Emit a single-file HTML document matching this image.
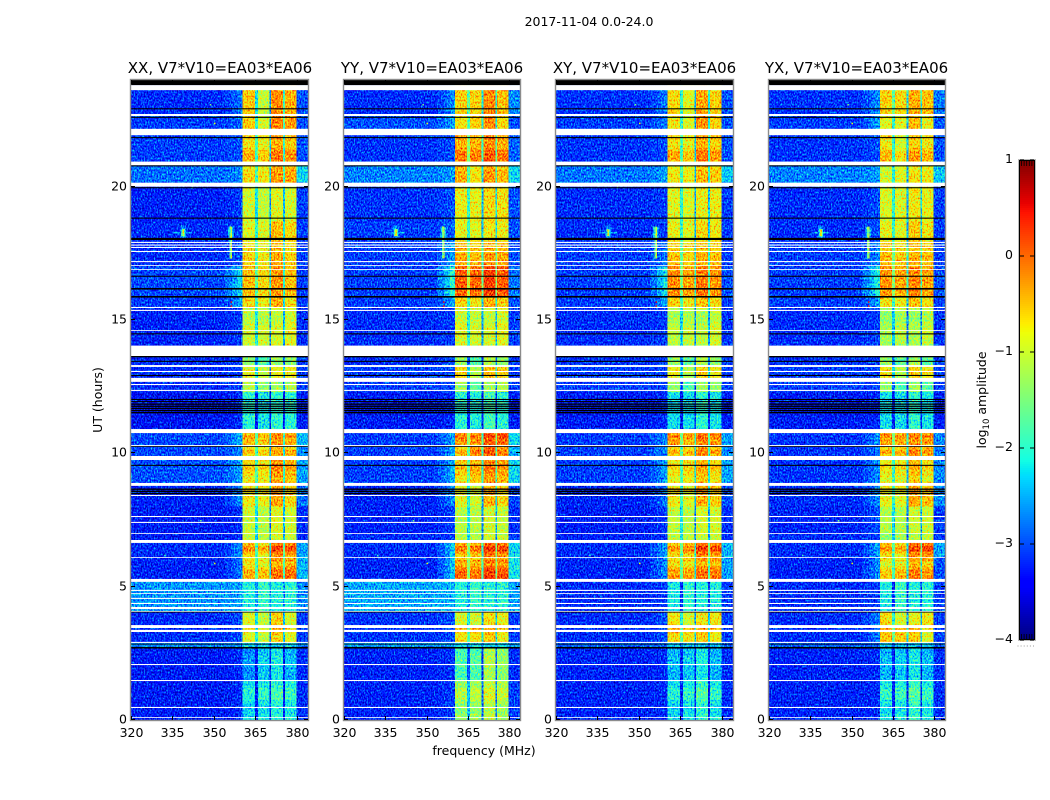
<!DOCTYPE html>
<html lang="en">
<head>
<meta charset="utf-8">
<title>2017-11-04 dynamic spectra</title>
<style>
html,body{margin:0;padding:0;background:#fff;}
svg{display:block;}
text{font-family:"DejaVu Sans","Liberation Sans",sans-serif;fill:#000;}
</style>
</head>
<body>
<svg id="chart" xmlns="http://www.w3.org/2000/svg" width="1050" height="800" viewBox="0 0 1050 800">
<rect x="0" y="0" width="1050" height="800" fill="#ffffff"/>
<text x="589" y="26" font-size="12.5" text-anchor="middle">2017-11-04 0.0-24.0</text>
<text x="0" y="0" font-size="12.5" text-anchor="middle" transform="translate(102,400) rotate(-90)">UT (hours)</text>
<text x="484" y="755" font-size="12.5" text-anchor="middle">frequency (MHz)</text>
<text x="0" y="0" font-size="12.5" text-anchor="middle" transform="translate(986,400) rotate(-90)">log<tspan font-size="8.5" dy="3">10</tspan><tspan dy="-3"> amplitude</tspan></text>
<defs id="defs"></defs>
<g id="panels"></g>
<g id="colorbar"></g>
</svg>
<script>
// ---- chart data -------------------------------------------------------
const panelTitles = ["XX, V7*V10=EA03*EA06","YY, V7*V10=EA03*EA06","XY, V7*V10=EA03*EA06","YX, V7*V10=EA03*EA06"];
const xTickValues = [320,335,350,365,380];
const yTickValues = [0,5,10,15,20];
const colorTickValues = [1,0,-1,-2,-3,-4];
const freqRange = [320,384];
const timeRange = [0,24];
const colorRange = [-4,1];
// time block boundaries (UT hours, descending)
const blockEdges = [23.81,22.7,21.93,20.94,20.15,18.7,17.95,17.0,15.9,15.45,14.04,13.25,12.7,12.3,10.91,10.31,9.9,8.89,8.0,7.0,6.75,6.11,5.29,4.05,3.56,2.93,2.7,1.5,0];
// frequency channels (MHz): background, roll-off, band A, gap, band B, gap, band C, gap, band D, upper edge
const freqEdges = [320,354,356.5,358.5,360.4,364.8,365.9,370,370.7,375,375.6,379.9,384];
// log10 amplitude per block: [background, roll-off, A, B, C, D, upper edge]
const levelsXX = [
[-3.1,-2.7,-.65,-1.2,-.3,-.5,-2.9],[-3.0,-2.8,-.65,-1.1,-.25,-.4,-2.9],[-3.0,-2.9,-.7,-.85,-.4,-.55,-2.9],[-2.75,-2.6,-.75,-.85,-.35,-.45,-2.2],
[-3.15,-3.0,-1.1,-1.2,-1.0,-1.1,-3.0],[-3.1,-3.0,-1.0,-1.05,-.55,-.75,-3.0],[-3.1,-2.9,-.7,-.85,-.45,-.7,-3.0],[-2.95,-2.2,-.6,-.75,-.35,-.6,-3.0],
[-3.0,-2.5,-.75,-.9,-.5,-.8,-3.0],[-3.15,-3.0,-1.15,-1.15,-1.1,-1.0,-3.1],[-3.1,-3.0,-1.5,-1.7,-1.5,-1.5,-3.0],[-3.1,-3.0,-.95,-1.2,-.9,-.9,-3.0],
[-3.1,-3.0,-1.3,-1.5,-1.4,-1.3,-3.0],[-3.25,-3.1,-1.95,-2.1,-1.9,-1.95,-3.2],[-2.95,-2.4,-.6,-.7,-.4,-.5,-2.4],[-2.95,-2.6,-.8,-.9,-.6,-.7,-2.6],
[-2.9,-2.5,-.75,-.8,-.35,-.55,-2.5],[-3.15,-2.6,-.85,-.9,-.45,-.75,-2.7],[-3.2,-3.1,-1.15,-1.25,-1.0,-1.1,-3.1],[-3.2,-3.1,-1.2,-1.25,-1.1,-1.2,-3.1],
[-3.1,-2.6,-.6,-.8,-.2,-.3,-2.5],[-3.15,-2.7,-.7,-.8,-.35,-.35,-2.4],[-2.55,-2.5,-2.0,-1.85,-2.0,-1.95,-2.6],[-3.1,-2.9,-1.05,-1.2,-.7,-1.1,-3.0],
[-3.1,-2.9,-.95,-1.15,-.65,-.95,-3.0],[-2.6,-2.6,-2.2,-2.2,-2.2,-2.2,-2.6],[-3.2,-3.1,-2.6,-2.3,-2.1,-2.4,-3.1],[-3.2,-3.1,-2.15,-2.05,-1.9,-2.0,-3.1]];
const levelsYY = [
[-3.1,-2.6,-.7,-.7,-.3,-.6,-2.6],[-2.9,-2.5,-.8,-.7,-.3,-.75,-2.9],[-3.05,-2.9,-.4,-.45,-.2,-.4,-2.8],[-2.65,-2.5,-.5,-.8,-.35,-.55,-2.2],
[-3.05,-2.9,-.9,-.95,-.75,-.8,-2.9],[-3.0,-2.8,-.95,-1.0,-.85,-.9,-2.9],[-3.0,-2.5,-.45,-.55,-.35,-.45,-2.9],[-3.0,-1.9,-.05,-.1,.12,-.05,-2.7],
[-3.0,-2.5,-.7,-.85,-.5,-.7,-2.9],[-3.1,-3.0,-1.05,-1.1,-1.1,-1.0,-3.0],[-3.1,-2.9,-1.5,-1.7,-1.3,-1.5,-3.0],[-3.0,-2.9,-.75,-1.3,-.6,-.7,-3.0],
[-3.0,-2.9,-1.4,-1.6,-1.4,-1.3,-3.0],[-3.2,-3.1,-1.95,-2.0,-1.75,-1.95,-3.2],[-3.0,-2.5,-.35,-.35,-.05,-.1,-2.2],[-3.0,-2.5,-.7,-.4,-.15,-.4,-2.4],
[-3.0,-2.4,-.7,-.55,-.3,-.45,-2.2],[-3.15,-2.6,-1.0,-1.1,-.55,-.75,-3.0],[-3.15,-3.0,-1.25,-1.25,-1.1,-1.2,-3.1],[-3.1,-3.0,-1.3,-1.3,-1.1,-1.2,-3.0],
[-3.1,-2.3,-.5,-.5,-.1,-.2,-2.2],[-3.15,-2.3,-.3,-.4,-.05,-.2,-2.1],[-2.45,-2.4,-2.0,-1.85,-1.95,-1.9,-2.5],[-3.05,-2.9,-1.05,-1.1,-.8,-.95,-3.0],
[-3.05,-2.9,-.75,-.7,-.55,-.85,-3.0],[-2.5,-2.5,-2.2,-2.2,-2.2,-2.2,-2.5],[-3.15,-3.05,-1.75,-1.7,-1.35,-1.55,-3.1],[-3.15,-3.0,-1.45,-1.4,-1.2,-1.35,-3.0]];
const levelsXY = [
[-3.05,-2.7,-.75,-1.0,-.45,-.7,-2.9],[-3.0,-2.7,-.85,-1.05,-.35,-.7,-2.9],[-3.05,-2.9,-.7,-.85,-.4,-.6,-2.9],[-2.7,-2.5,-.85,-.9,-.55,-.65,-2.3],
[-3.1,-3.0,-1.0,-1.05,-.9,-.9,-3.0],[-3.1,-3.0,-.95,-1.0,-.75,-.85,-3.0],[-3.0,-2.7,-.6,-.7,-.5,-.6,-3.0],[-3.0,-2.1,-.3,-.45,-.2,-.35,-2.9],
[-3.0,-2.5,-.7,-.85,-.6,-.75,-3.0],[-3.1,-3.0,-1.25,-1.2,-1.25,-1.1,-3.05],[-3.05,-3.0,-1.5,-1.6,-1.3,-1.5,-3.0],[-3.0,-3.0,-.9,-1.3,-.7,-.9,-3.0],
[-3.0,-3.0,-1.5,-1.7,-1.4,-1.5,-3.0],[-3.2,-3.1,-2.15,-2.15,-1.9,-2.1,-3.2],[-3.0,-2.6,-.4,-.55,-.25,-.4,-2.5],[-3.0,-2.6,-.7,-.75,-.4,-.6,-2.6],
[-3.0,-2.5,-.85,-.8,-.55,-.75,-2.5],[-3.15,-2.7,-.85,-1.0,-.5,-.7,-2.9],[-3.2,-3.0,-1.2,-1.25,-1.1,-1.1,-3.1],[-3.15,-3.05,-1.25,-1.25,-1.2,-1.2,-3.1],
[-3.1,-2.5,-.65,-.55,-.15,-.25,-2.4],[-3.15,-2.6,-.6,-.65,-.35,-.4,-2.5],[-3.1,-3.0,-2.05,-1.9,-2.0,-2.0,-3.0],[-3.1,-2.9,-.85,-1.1,-.85,-.85,-3.0],
[-3.1,-2.9,-.7,-.75,-.6,-.8,-3.0],[-2.8,-2.8,-2.3,-2.3,-2.3,-2.3,-2.8],[-3.15,-3.1,-2.4,-2.3,-2.1,-2.4,-3.1],[-3.15,-3.1,-2.15,-2.05,-1.85,-2.05,-3.1]];
const levelsYX = [
[-3.05,-2.6,-.7,-.75,-.5,-.6,-2.7],[-3.0,-2.5,-1.0,-1.0,-.55,-.9,-2.9],[-3.05,-2.9,-.75,-1.0,-.6,-.75,-2.9],[-2.65,-2.5,-1.1,-1.0,-.8,-.85,-2.3],
[-3.1,-2.9,-1.05,-1.05,-.85,-.95,-3.0],[-3.1,-2.9,-.95,-1.0,-.65,-.85,-3.0],[-3.0,-2.6,-.55,-.65,-.5,-.6,-3.0],[-3.0,-2.0,-.35,-.45,-.25,-.45,-2.9],
[-3.0,-2.5,-.8,-.9,-.6,-.8,-3.0],[-3.1,-3.0,-1.4,-1.25,-1.35,-1.2,-3.05],[-3.05,-3.0,-1.5,-1.6,-1.4,-1.6,-3.0],[-3.0,-3.0,-.8,-1.3,-.7,-.85,-3.0],
[-3.0,-3.0,-1.5,-1.7,-1.4,-1.6,-3.0],[-3.2,-3.1,-2.15,-2.15,-1.9,-2.1,-3.2],[-3.05,-2.6,-.45,-.5,-.35,-.4,-2.6],[-3.05,-2.7,-.7,-.7,-.4,-.55,-2.7],
[-3.05,-2.6,-.9,-.9,-.6,-.85,-2.6],[-3.1,-2.6,-.95,-1.0,-.45,-.6,-2.6],[-3.15,-2.9,-1.3,-1.3,-1.15,-1.15,-3.0],[-3.1,-3.0,-1.5,-1.4,-1.3,-1.2,-3.0],
[-3.1,-2.5,-.65,-.75,-.2,-.2,-2.5],[-3.15,-2.6,-.85,-.75,-.4,-.55,-2.9],[-3.1,-3.0,-2.05,-1.85,-2.0,-1.95,-3.0],[-3.1,-2.7,-.75,-1.1,-.95,-.85,-3.0],
[-3.1,-2.7,-.55,-.6,-.6,-.95,-3.0],[-2.8,-2.8,-2.3,-2.3,-2.3,-2.3,-2.8],[-3.15,-3.1,-2.4,-2.3,-2.1,-2.4,-3.1],[-3.15,-3.1,-2.05,-2.0,-1.8,-2.0,-3.1]];
const bandLift = 0.22;
const gapDrops = [1.1,1.6,1.5];
// horizontal ripples inside the bright bands: [hourHigh, hourLow, change in log amplitude]
const bandRipples = [
[21.35,20.97,.2],[21.75,21.45,-.12],[20.8,20.6,-.1],[17.9,17.5,-.12],[15.3,14.9,-.12],[14.7,14.45,.08],
[10.7,10.55,.15],[10.12,9.95,.2],[9.6,9.4,.15],[9.15,8.95,-.15],[8.72,8.45,.1],
[6.52,6.32,.3],[6.2,6.0,-.2],[5.95,5.75,-.22],[5.65,5.5,.2],[5.45,5.3,.25],
[3.5,3.3,.18],[3.2,3.0,-.1],[2.4,2.0,.08],[1.2,.75,.18],[.6,.2,-.1]];
// interference patches: [freqLow, freqHigh, hourHigh, hourLow, level]
const interference = [
[335.5,342,18.3,18.24,-2.4],[337.9,339.9,18.55,18.0,-2.6],[338.2,339.6,18.42,18.14,-1.8],[338.6,339.2,18.4,18.15,-0.6],
[355,357,18.5,18.05,-2.4],[355.6,356.1,18.5,17.3,-1.5],[356.1,356.5,18.5,17.3,-0.8]];
// flagged (white) intervals in UT hours: [start, end]
const flaggedHours = [[23.62,23.81],[22.65,22.725],[21.93,22.17],[20.8,20.94],[20.0,20.15],[17.89,17.93],[17.79,17.83],[17.7,17.74],[17.55,17.59],[17.17,17.21],[17.03,17.06],[16.88,16.91],[15.45,15.49],[15.34,15.38],[14.59,14.62],[13.65,14.04],[13.24,13.31],[13.05,13.09],[12.68,12.83],[12.56,12.6],[12.34,12.38],[10.76,10.91],[10.26,10.31],[9.75,9.9],[8.78,8.89],[8.4,8.44],[7.61,7.65],[7.39,7.43],[6.98,7.01],[6.64,6.75],[6.08,6.11],[5.18,5.29],[4.84,4.88],[4.73,4.76],[4.54,4.58],[4.35,4.39],[4.16,4.24],[4.05,4.09],[3.45,3.56],[3.3,3.38],[2.89,2.93],[2.06,2.1],[1.46,1.5],[0.45,0.49],[0.08,0.11]];
// empty (black) intervals in UT hours: [start, end]
const blankHours = [[23.81,24],[22.9,22.94],[22.58,22.62],[21.82,21.86],[20.76,20.8],[19.94,19.98],[18.8,18.84],[18.0,18.08],[16.62,16.66],[16.14,16.2],[15.84,15.9],[14.46,14.5],[13.6,13.65],[13.43,13.47],[12.9,12.94],[12.0,12.04],[11.92,11.96],[11.82,11.87],[11.74,11.79],[11.66,11.71],[11.58,11.63],[11.5,11.55],[10.24,10.27],[9.53,9.57],[8.63,8.68],[8.55,8.6],[8.47,8.52],[4.03,4.06],[2.83,2.86],[2.68,2.74]];
// isolated hot channels: [freq, hour, level]
const specks = [[348.5,23.1,-1.5],[350,22.4,-0.9],[342,20.0,-1.5],[350,17.6,-1.2],[332,6.2,-1.9],[350,5.9,-0.9],[345,7.5,-1.6],[356,15.7,0.5],[356,15.55,0.4]];

// ---- axis functions ---------------------------------------------------
const panelLefts = [131,344,556,769];
const panelWidths = [177,176,177,176];
const titleCentres = [220,432,644.5,856.5];
const plotTop = 80, plotBottom = 720;
const allLevels = [levelsXX,levelsYY,levelsXY,levelsYX];
const SVGNS = "http://www.w3.org/2000/svg";
function freqToX(f,p){return panelLefts[p]+(f-freqRange[0])/(freqRange[1]-freqRange[0])*panelWidths[p];}
function hourToY(h){return plotBottom-(h-timeRange[0])/(timeRange[1]-timeRange[0])*(plotBottom-plotTop);}
function levelToT(v){return Math.max(0,Math.min(1,(v-colorRange[0])/(colorRange[1]-colorRange[0])));}
function levelToBarY(v){return 160+(colorRange[1]-v)/(colorRange[1]-colorRange[0])*480;}
function ramp(t,pts){for(let i=1;i<pts.length;i++){if(t<=pts[i][0]){const a=pts[i-1],b=pts[i];return a[1]+(b[1]-a[1])*(t-a[0])/(b[0]-a[0]);}}return pts[pts.length-1][1];}
function jetR(t){return ramp(t,[[0,0],[.35,0],[.66,1],[.89,1],[1,.5]]);}
function jetG(t){return ramp(t,[[0,0],[.125,0],[.375,1],[.64,1],[.91,0],[1,0]]);}
function jetB(t){return ramp(t,[[0,.5],[.11,1],[.34,1],[.65,0],[1,0]]);}
function jetCss(t){return "rgb("+Math.round(jetR(t)*255)+","+Math.round(jetG(t)*255)+","+Math.round(jetB(t)*255)+")";}
function grayCss(v){const g=Math.round(levelToT(v)*255);return "rgb("+g+","+g+","+g+")";}
function setAll(el,a){for(const k in a){el.setAttribute(k,a[k]);}}
function lifted(v){return v>-1.6?v+bandLift:v;}
function columnLevels(row){
  const bg=row[0],r=row[1],A=lifted(row[2]),B=lifted(row[3]),C=lifted(row[4]),D=lifted(row[5]),up=row[6];
  return [bg,bg+(r-bg)*.33,bg+(r-bg)*.66,r,A,
    Math.max(bg,Math.min(A,B)-gapDrops[0]),B,
    Math.max(bg,Math.min(B,C)-gapDrops[1]),C,
    Math.max(bg,Math.min(C,D)-gapDrops[2]),D,up];
}
function blockIndexAt(h){for(let i=0;i<blockEdges.length-1;i++){if(h<=blockEdges[i]&&h>blockEdges[i+1]){return i;}}return blockEdges.length-2;}
function tableValues(fn){const out=[];for(let i=0;i<=128;i++){out.push(fn(i/128).toFixed(4));}return out.join(" ");}

// ---- build panels -----------------------------------------------------
const defs=document.getElementById("defs");
const root=document.getElementById("panels");
panelTitles.forEach(function(title,p){
  const x0=panelLefts[p],w=panelWidths[p],levels=allLevels[p];
  // filter: adds channel noise to the amplitude, then maps it through the jet colormap
  const flt=document.createElementNS(SVGNS,"filter");
  setAll(flt,{id:"jet"+p,filterUnits:"userSpaceOnUse",x:x0,y:plotTop,width:w,height:plotBottom-plotTop,"color-interpolation-filters":"sRGB"});
  flt.innerHTML='<feTurbulence type="fractalNoise" baseFrequency=".7 .5" numOctaves="2" seed="'+(p*7+3)+'" result="n"/>'+
    '<feColorMatrix in="n" type="matrix" values="1 0 0 0 0 1 0 0 0 0 1 0 0 0 0 0 0 0 0 1" result="g"/>'+
    '<feComposite in="SourceGraphic" in2="g" operator="arithmetic" k1="0" k2="1" k3=".5" k4="-.27" result="c"/>'+
    '<feComponentTransfer in="c"><feFuncR type="table" tableValues="'+tableValues(jetR)+'"/><feFuncG type="table" tableValues="'+tableValues(jetG)+'"/><feFuncB type="table" tableValues="'+tableValues(jetB)+'"/></feComponentTransfer>';
  defs.appendChild(flt);

  const panel=document.createElementNS(SVGNS,"g");
  
  
  root.appendChild(panel);

  const ttl=document.createElementNS(SVGNS,"text");
  setAll(ttl,{x:titleCentres[p],y:73,"font-size":"15","text-anchor":"middle"});
  
  
  ttl.textContent=title;
  panel.appendChild(ttl);

  const hm=document.createElementNS(SVGNS,"g");
  
  
  hm.setAttribute("filter","url(#jet"+p+")");
  hm.setAttribute("shape-rendering","crispEdges");
  panel.appendChild(hm);

  levels.forEach(function(row,b){
    const cols=columnLevels(row);
    const yTop=hourToY(blockEdges[b]),yBot=hourToY(blockEdges[b+1]);
    cols.forEach(function(v,c){
      const xa=freqToX(freqEdges[c],p),xb=freqToX(freqEdges[c+1],p);
      const cell=document.createElementNS(SVGNS,"rect");
      setAll(cell,{x:xa.toFixed(2),y:yTop.toFixed(2),width:(xb-xa).toFixed(2),height:(yBot-yTop).toFixed(2),fill:grayCss(v)});
      
      
      hm.appendChild(cell);
    });
  });
  bandRipples.forEach(function(q){
    const cols=columnLevels(levels[blockIndexAt(q[0])]);
    const ya=hourToY(q[0]),yb=hourToY(q[1]);
    [4,6,8,10].forEach(function(c){
      const xa=freqToX(freqEdges[c],p),xb=freqToX(freqEdges[c+1],p);
      const rip=document.createElementNS(SVGNS,"rect");
      setAll(rip,{x:xa.toFixed(2),y:ya.toFixed(2),width:(xb-xa).toFixed(2),height:(yb-ya).toFixed(2),fill:grayCss(cols[c]+q[2])});
      
      
      hm.appendChild(rip);
    });
  });
  interference.forEach(function(q){
    const xa=freqToX(q[0],p),xb=freqToX(q[1],p),ya=hourToY(q[2]),yb=hourToY(q[3]);
    const patch=document.createElementNS(SVGNS,"rect");
    setAll(patch,{x:xa.toFixed(2),y:ya.toFixed(2),width:(xb-xa).toFixed(2),height:(yb-ya).toFixed(2),fill:grayCss(q[4])});
    
    
    hm.appendChild(patch);
  });

  specks.forEach(function(s){
    const dot=document.createElementNS(SVGNS,"rect");
    setAll(dot,{x:freqToX(s[0],p).toFixed(1),y:hourToY(s[1]).toFixed(1),width:1.5,height:1.5,fill:jetCss(levelToT(s[2]))});
    
    
    panel.appendChild(dot);
  });
  flaggedHours.forEach(function(q){
    const ya=hourToY(q[1]),yb=hourToY(q[0]);
    const gap=document.createElementNS(SVGNS,"rect");
    setAll(gap,{x:x0,y:ya.toFixed(2),width:w,height:(yb-ya).toFixed(2),fill:"#ffffff"});
    
    
    panel.appendChild(gap);
  });
  blankHours.forEach(function(q){
    const ya=hourToY(q[1]),yb=hourToY(q[0]);
    const line=document.createElementNS(SVGNS,"rect");
    setAll(line,{x:x0,y:ya.toFixed(2),width:w,height:(yb-ya).toFixed(2),fill:"#000000"});
    
    
    panel.appendChild(line);
  });

  const frame=document.createElementNS(SVGNS,"rect");
  setAll(frame,{x:x0-.5,y:plotTop-.5,width:w+1,height:plotBottom-plotTop+1,fill:"none",stroke:"#8c8c8c","stroke-width":1.4});
  
  
  panel.appendChild(frame);

  xTickValues.forEach(function(v){
    const x=Math.round(freqToX(v,p))+.5;
    const tb=document.createElementNS(SVGNS,"path");
    setAll(tb,{d:"M"+x+" "+plotBottom+"v-4M"+x+" "+plotTop+"v4",stroke:"#000","stroke-width":1,fill:"none"});
    
    
    panel.appendChild(tb);
    const lb=document.createElementNS(SVGNS,"text");
    setAll(lb,{x:x,y:737,"font-size":"12.5","text-anchor":"middle"});
    
    
    lb.textContent=v;
    panel.appendChild(lb);
  });
  yTickValues.forEach(function(v){
    const y=Math.round(hourToY(v))-.5;
    const tk=document.createElementNS(SVGNS,"path");
    setAll(tk,{d:"M"+x0+" "+y+"h4M"+(x0+w)+" "+y+"h-4",stroke:"#000","stroke-width":1,fill:"none"});
    
    
    panel.appendChild(tk);
    const lb=document.createElementNS(SVGNS,"text");
    setAll(lb,{x:x0-4,y:y+4,"font-size":"12.5","text-anchor":"end"});
    
    
    lb.textContent=v;
    panel.appendChild(lb);
  });
});

// ---- colorbar ---------------------------------------------------------
const cb=document.getElementById("colorbar");
for(let i=0;i<240;i++){
  const v=colorRange[1]-(i+.5)/240*(colorRange[1]-colorRange[0]);
  const seg=document.createElementNS(SVGNS,"rect");
  setAll(seg,{x:1019,y:160+i*2,width:16,height:2.2,fill:jetCss(levelToT(v))});
  
  
  cb.appendChild(seg);
}
const cbOuter=document.createElementNS(SVGNS,"rect");
setAll(cbOuter,{x:1019.5,y:160.5,width:15,height:479,fill:"none",stroke:"#000","stroke-width":1});


cb.appendChild(cbOuter);
const cbGray=document.createElementNS(SVGNS,"rect");
setAll(cbGray,{x:1018.5,y:159.5,width:17,height:481,fill:"none",stroke:"#bdbdbd","stroke-width":1});


cb.appendChild(cbGray);
colorTickValues.forEach(function(v){
  const y=levelToBarY(v);
  const tk=document.createElementNS(SVGNS,"path");
  setAll(tk,{d:"M1020 "+y+"h4M1034 "+y+"h-4",stroke:"#000","stroke-width":1,fill:"none"});
  
  
  cb.appendChild(tk);
  const lb=document.createElementNS(SVGNS,"text");
  setAll(lb,{x:1013,y:y+3,"font-size":"12.5","text-anchor":"end"});
  
  
  lb.textContent=String(v).replace("-","\u2212");
  cb.appendChild(lb);
});
for(let k=0;k<6;k++){
  const m=document.createElementNS(SVGNS,"path");
  const mx=1021.5+k*2.6;
  setAll(m,{d:"M"+mx+" 161v5M"+mx+" 639v-5",stroke:"#000","stroke-width":.8,fill:"none"});
  
  
  cb.appendChild(m);
  const d=document.createElementNS(SVGNS,"rect");
  setAll(d,{x:(1017.5+k*3.1).toFixed(1),y:645.5,width:1,height:1,fill:"#9a9a9a"});
  
  
  cb.appendChild(d);
}
</script>
</body>
</html>
